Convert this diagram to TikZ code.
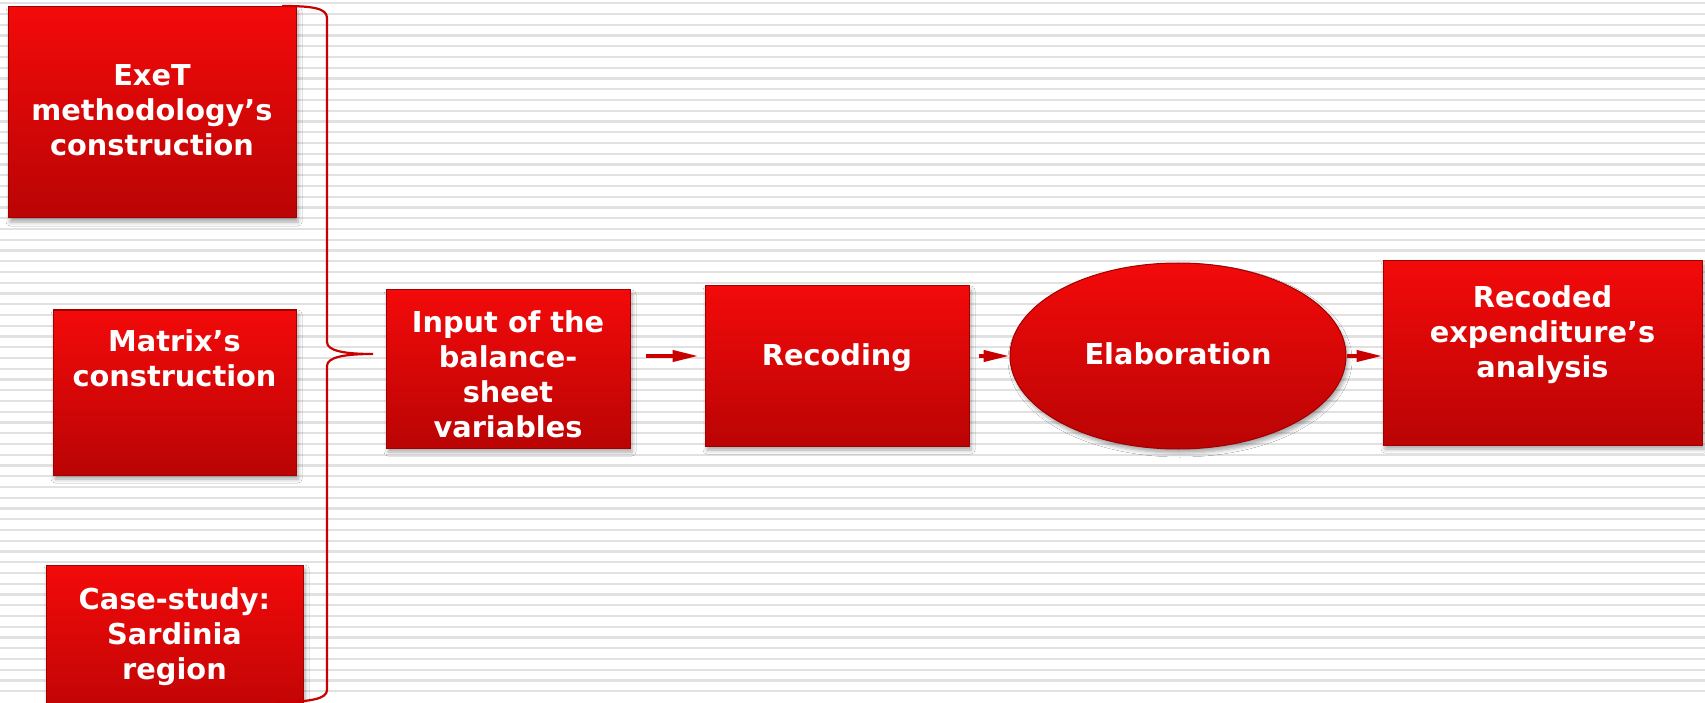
\documentclass[tikz,border=0pt]{standalone}
\usepackage{fontspec}
\setmainfont{DejaVu Sans}
\usetikzlibrary{arrows.meta,shapes.geometric,shadows.blur}
\definecolor{boxtop}{RGB}{243,10,10}
\definecolor{boxbot}{RGB}{186,4,4}
\definecolor{boxedge}{RGB}{160,0,0}
\definecolor{stripegray}{RGB}{225,225,225}
\definecolor{linkred}{RGB}{200,0,0}

\begin{document}
\begin{tikzpicture}[
      x=1pt, y=-1pt,
      stripe/.style={line width=2.2pt,draw=stripegray},
      box/.style n args={2}{rectangle,draw=boxedge,line width=1pt,
        top color=boxtop,bottom color=boxbot,minimum width=#1,minimum height=#2,
        blur shadow={shadow xshift=2pt,shadow yshift=-4pt,shadow blur radius=4pt,shadow opacity=35}},
      oval/.style n args={2}{ellipse,draw=boxedge,line width=1pt,
        top color=boxtop,bottom color=boxbot,minimum width=#1,minimum height=#2,
        blur shadow={shadow xshift=2pt,shadow yshift=-4pt,shadow blur radius=4pt,shadow opacity=35}},
      txt/.style={text=white,font=\fontsize{28.8}{35}\selectfont\bfseries,align=center,inner sep=0pt},
      flow/.style={line width=4pt,draw=linkred,-{Triangle[length=26pt,width=11pt]}},
      brace/.style={line width=2.2pt,draw=linkred}
    ]
    \useasboundingbox (0,0) rectangle (1705,703);
    \clip (0,0) rectangle (1705,703);
    % Draw the striped background.
    \fill[white] (0,0) rectangle (1705,703);
    \foreach \k in {0,...,64}
      \draw[stripe] (0,{3.3+10.75*\k}) -- (1705,{3.3+10.75*\k});
    % Draw the three starting boxes.
    \node[box={288pt}{211pt}] (exet) at (152,112.5) {};
    \node[box={243pt}{165pt}] (matrix) at (174.5,392.5) {};
    \node[box={257pt}{165pt}] (casestudy) at (174.5,647.5) {};
    \node[txt] (exet-t) at (152,110.5) {ExeT\\methodology’s\\construction};
    \node[txt] (matrix-t) at (174.5,358) {Matrix’s\\construction};
    \node[txt] (casestudy-t) at (174.5,636.5) {Case-study:\\Sardinia\\region};
    % Draw the brace that joins them.
    \coordinate (bracetip) at (373,354);
    \draw[brace] (282,6) .. controls (312,6) and (327,8) .. (327,18)
      -- (327,342) .. controls (327,351) and (345,354) .. (bracetip)
      .. controls (345,354) and (327,357) .. (327,366)
      -- (327,690) .. controls (327,699) and (310,702) .. (277,702);
    % Draw the chain of steps.
    \node[box={244pt}{158pt}] (input) at (508,369) {};
    \node[box={264pt}{160pt}] (recoding) at (837,366) {};
    \node[oval={336pt}{186pt}] (elab) at (1178,356) {};
    \node[box={319pt}{184pt}] (recoded) at (1542.5,353) {};
    \node[txt] (input-t) at (508,374) {Input of the\\balance-\\sheet\\variables};
    \node[txt] (recoding-t) at (837,357.5) {Recoding};
    \node[txt] (elab-t) at (1178,354) {Elaboration};
    \node[txt] (recoded-t) at (1542.5,334.5) {Recoded\\expenditure’s\\analysis};
    % Draw the arrows.
    \draw[flow,shorten <=15pt,shorten >=6pt] (input.east |- elab) -- (recoding.west |- elab);
    \draw[flow,shorten <=9pt] (recoding.east |- elab) -- (elab.west);
    \draw[flow] (elab.east) -- (recoded.west |- elab);
\end{tikzpicture}
\end{document}
